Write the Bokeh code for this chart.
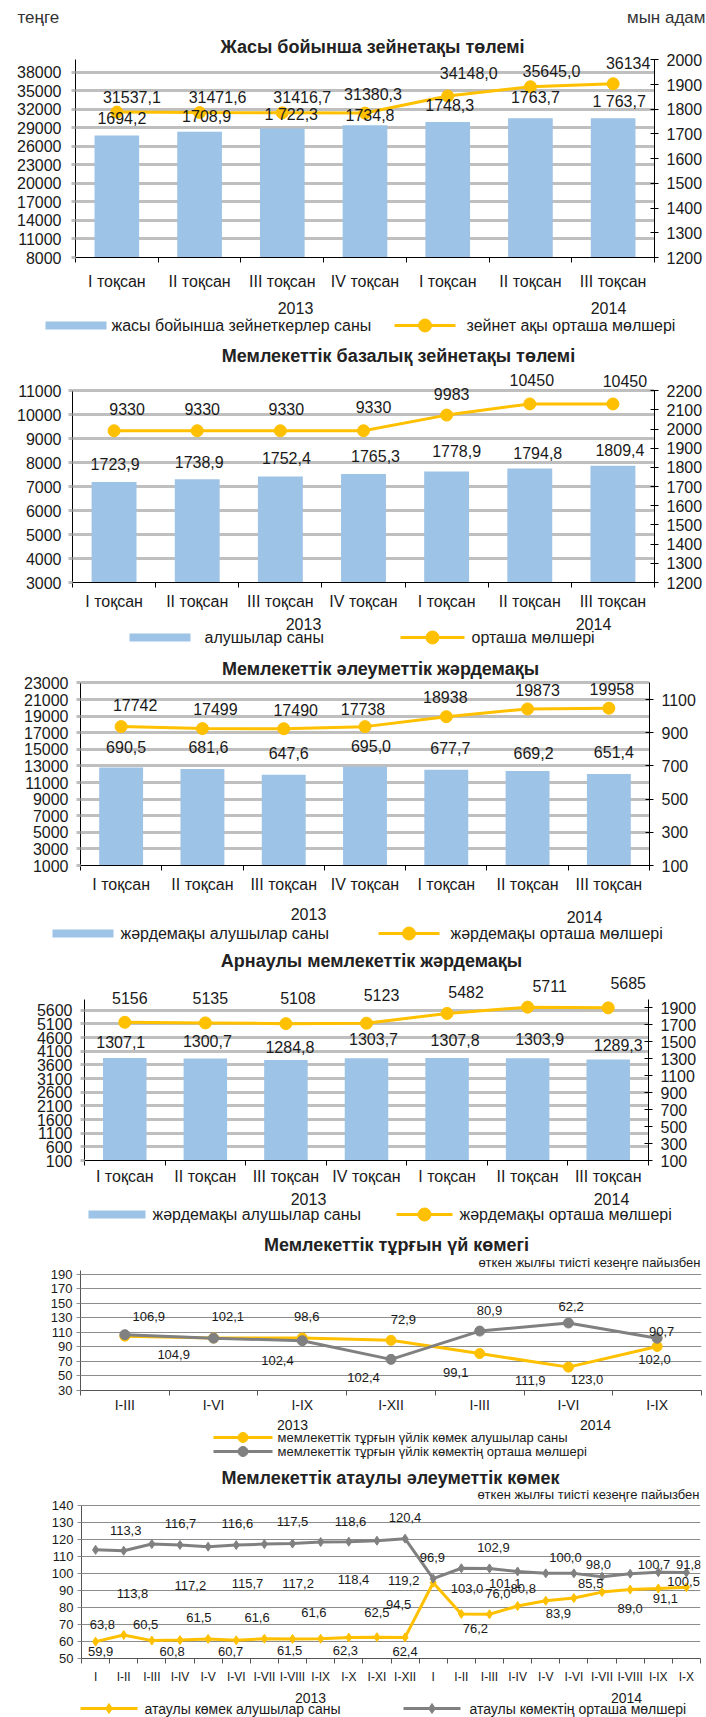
from bokeh.plotting import figure
from bokeh.layouts import column
from bokeh.models import Range1d, LinearAxis, FixedTicker, ColumnDataSource, LabelSet, Grid
from bokeh.core.properties import value
from bokeh.embed import file_html
from bokeh.resources import INLINE

# ------------------------------------------------------------------ data
quarters = ["I тоқсан", "II тоқсан", "III тоқсан", "IV тоқсан", "I тоқсан", "II тоқсан", "III тоқсан"]
years = ["2013", "2014"]

# 1. Жасы бойынша зейнетақы
age_count = [1694.2, 1708.9, 1722.3, 1734.8, 1748.3, 1763.7, 1763.7]
age_count_lbl = ["1694,2", "1708,9", "1 722,3", "1734,8", "1748,3", "1763,7", "1 763,7"]
age_avg = [31537.1, 31471.6, 31416.7, 31380.3, 34148.0, 35645.0, 36134]
age_avg_lbl = ["31537,1", "31471,6", "31416,7", "31380,3", "34148,0", "35645,0", "36134"]

# 2. Базалық зейнетақы
base_count = [1723.9, 1738.9, 1752.4, 1765.3, 1778.9, 1794.8, 1809.4]
base_avg = [9330, 9330, 9330, 9330, 9983, 10450, 10450]

# 3. Әлеуметтік жәрдемақы
soc_count = [690.5, 681.6, 647.6, 695.0, 677.7, 669.2, 651.4]
soc_avg = [17742, 17499, 17490, 17738, 18938, 19873, 19958]

# 4. Арнаулы жәрдемақы
spec_count = [1307.1, 1300.7, 1284.8, 1303.7, 1307.8, 1303.9, 1289.3]
spec_avg = [5156, 5135, 5108, 5123, 5482, 5711, 5685]

# 5. Тұрғын үй көмегі (%)
house_periods = ["I-III", "I-VI", "I-IX", "I-XII", "I-III", "I-VI", "I-IX"]
house_recip = [104.9, 102.4, 102.4, 99.1, 80.9, 62.2, 90.7]
house_amount = [106.9, 102.1, 98.6, 72.9, 111.9, 123.0, 102.0]

# 6. Атаулы әлеуметтік көмек (%)
target_periods = ["I", "I-II", "I-III", "I-IV", "I-V", "I-VI", "I-VII", "I-VIII", "I-IX", "I-X", "I-XI", "I-XII",
                  "I", "I-II", "I-III", "I-IV", "I-V", "I-VI", "I-VII", "I-VIII", "I-IX", "I-X"]
target_recip = [59.9, 63.8, 60.5, 60.8, 61.5, 60.7, 61.6, 61.5, 61.6, 62.3, 62.5, 62.4,
                94.5, 76.2, 76.0, 80.8, 83.9, 85.5, 89.0, 90.5, 91.1, 91.8]
target_amount = [113.8, 113.3, 117.2, 116.7, 115.7, 116.6, 117.2, 117.5, 118.4, 118.6, 119.2, 120.4,
                 96.9, 103.0, 102.9, 101.1, 100.0, 100.0, 98.0, 99.8, 100.7, 100.5]
target_amount_shown = [True] * 17 + [False, True, False, True, True]
target_recip_shown = [True] * 19 + [False, True, True]

# ------------------------------------------------------------------ label layout (pixel offsets / label anchors)
age_avg_off = [(15, 15), (18, 16), (20, 16), (8, 20), (21, 23), (21, 16), (15, 21)]
age_cnt_off = [(5, 18), (7, 16), (9, 14), (5, 11), (2, 17), (5, 22), (6, 17)]
base_avg_off = [(13, 22), (5, 22), (6, 22), (10, 24), (5, 21), (2, 24), (12, 23)]
base_cnt_off = [(1, 18), (2, 17), (6, 19), (12, 18), (10, 21), (8, 16), (7, 16)]
soc_avg_off = [(14, 22), (13, 20), (12, 19), (-2, 18), (-1, 20), (10, 19), (3, 20)]
soc_cnt_off = [(5, 21), (6, 22), (5, 22), (6, 21), (4, 22), (6, 18), (5, 22)]
spec_avg_off = [(5, 24), (5, 25), (12, 26), (15, 28), (19, 22), (22, 21), (20, 25)]
spec_cnt_off = [(-4, 16), (2, 18), (4, 13), (7, 19), (8, 18), (12, 19), (10, 15)]

house_amount_lx = [0.27, 1.16, 2.05, 3.14, 4.57, 5.21, 5.97]
house_amount_ly = [131.6, 132.6, 132.6, 127.3, 43.6, 45.8, 72.2]
house_recip_lx = [0.55, 1.72, 2.69, 3.73, 4.11, 5.03, 6.05]
house_recip_ly = [80.2, 70.9, 48.1, 54.7, 140.5, 146.2, 111.8]

target_amount_lx = [1.31, 1.07, 3.37, 3.02, 5.4, 5.04, 7.2, 7.0, 9.17, 9.06, 10.95, 11.0,
                    11.97, 13.2, 14.14, 14.56, 16.7, 0, 17.87, 0, 19.85, 20.9]
target_amount_ly = [88.3, 125.2, 92.8, 129.2, 94, 129.2, 94, 130.3, 96.3, 130.3, 95.7, 132.6,
                    109.3, 91.1, 115, 94, 109.3, 0, 105.3, 0, 105.3, 95.1]
target_recip_lx = [0.18, 0.24, 1.78, 2.72, 3.67, 4.8, 5.74, 6.9, 7.76, 8.88, 10.0, 11.0,
                   10.77, 13.5, 14.3, 15.2, 16.45, 17.6, 19.0, 0, 20.25, 21.08]
target_recip_ly = [54.4, 70.1, 70.1, 54.4, 74.1, 54.4, 74.1, 54.6, 76.9, 54.6, 76.9, 54.4,
                   81.5, 67.8, 88.3, 91.1, 76.4, 94, 79.2, 0, 85.0, 105.3]

# ------------------------------------------------------------------ style
FONT = "Liberation Sans"
W = 706
BLUE = "#9DC3E6"
GOLD = "#FFC000"
GREY = "#808080"
GRIDC = "#BFBFBF"
TXT = "#1A1A1A"
TITLE_C = "#222222"


def fmt(v, nd=1):
    return f"{v:.{nd}f}".replace(".", ",")


def no_align(p):
    if "frame_align" in type(p).properties():
        p.frame_align = False


def tfig(h):
    f = figure(width=W, height=h, title=None, x_range=Range1d(0, W), y_range=Range1d(h, 0),
               x_axis_type=None, y_axis_type=None, toolbar_location=None, output_backend="svg",
               min_border_left=0, min_border_right=0, min_border_top=0, min_border_bottom=0)
    f.outline_line_color = None
    no_align(f)
    return f


def put(f, top, px, py, s, size=16, align="left", bold=False, color=TXT, **kw):
    f.text(x=[px], y=[py - top], text=[s], text_font=value(FONT), text_font_size=f"{size}px",
           text_font_style="bold" if bold else "normal", text_align=align, text_baseline="middle",
           text_color=color, **kw)


def put_in_chart(p, px, py, s, size=18, align="center", bold=True, color=TITLE_C):
    # chart figures carry pixel ranges "px"/"py" (page coordinates), so this is a plain text glyph
    put(p, 0, px, py, s, size, align, bold, color, x_range_name="px", y_range_name="py")


def leg_bar(f, top, x0, x1, y):
    f.quad(left=[x0], right=[x1], top=[y - top - 4], bottom=[y - top + 4],
           fill_color=BLUE, line_color=None)


def leg_line(f, top, x0, x1, y, color, marker="circle", size=13):
    f.line([x0, x1], [y - top, y - top], line_color=color, line_width=3)
    f.scatter([(x0 + x1) / 2], [y - top], marker=marker, size=size, fill_color=color, line_color=color)


def style_axis(ax, size, color="black"):
    ax.major_label_text_font = FONT
    ax.major_label_text_font_size = f"{size}px"
    ax.major_label_text_color = TXT
    ax.axis_line_color = color
    ax.axis_line_width = 1


def base_fig(top, h, fl, fr, fb, xr, yr):
    # frame runs from the figure top down to fb; the y axes are bounded to the chart part
    p = figure(width=W, height=h, title=None, x_range=Range1d(*xr), y_range=Range1d(*yr),
               x_axis_type=None, y_axis_type=None, toolbar_location=None, output_backend="svg",
               min_border_left=fl, min_border_right=W - fr,
               min_border_top=0, min_border_bottom=top + h - fb)
    p.outline_line_color = None
    p.extra_x_ranges = {"px": Range1d(fl, fr)}
    p.extra_y_ranges = {"py": Range1d(fb, top)}
    no_align(p)
    return p


def xaxis(p, cats, size, standoff, color="black"):
    n = len(cats)
    xa = LinearAxis(ticker=FixedTicker(ticks=list(range(n)), minor_ticks=[i - 0.5 for i in range(n + 1)]),
                    major_label_overrides={i: c for i, c in enumerate(cats)})
    style_axis(xa, size, color)
    xa.major_tick_line_color = None
    xa.major_tick_out = 0
    xa.major_tick_in = 0
    xa.minor_tick_out = 5
    xa.minor_tick_in = 0
    xa.minor_tick_line_color = color
    xa.major_label_standoff = standoff
    p.add_layout(xa, "below")


def combo(top, h, fl, fr, ft, fb, lrange, lticks, rrange, rticks,
          cnt, cnt_lbl, cnt_off, avg, avg_lbl, avg_off, xstand, lstand, title, tpos):
    fw, fh = fr - fl, fb - ft
    catw = fw / 7.0
    ppl = fh / (lrange[1] - lrange[0])
    ppr = fh / (rrange[1] - rrange[0])
    extra = ft - top
    p = base_fig(top, h, fl, fr, fb, (-0.5, 6.5), (lrange[0], lrange[1] + extra / ppl))
    p.extra_y_ranges["r"] = Range1d(rrange[0], rrange[1] + extra / ppr)

    p.add_layout(Grid(dimension=1, ticker=FixedTicker(ticks=lticks),
                      grid_line_color=GRIDC, grid_line_width=3))
    la = LinearAxis(ticker=FixedTicker(ticks=lticks), bounds=tuple(lrange))
    style_axis(la, 16)
    la.major_tick_out = 4
    la.major_tick_in = 0
    la.major_tick_line_color = GRIDC
    la.major_tick_line_width = 3
    la.major_label_standoff = lstand
    p.add_layout(la, "left")
    ra = LinearAxis(y_range_name="r", ticker=FixedTicker(ticks=rticks), bounds=tuple(rrange))
    style_axis(ra, 16)
    ra.major_tick_out = 4
    ra.major_tick_in = 4
    ra.major_tick_line_color = "black"
    ra.major_label_standoff = 8
    p.add_layout(ra, "right")
    xaxis(p, quarters, 16, xstand)

    idx = list(range(7))
    p.vbar(x=idx, top=cnt, bottom=rrange[0], width=0.54, fill_color=BLUE, line_color=None, y_range_name="r")
    p.line(x=idx, y=avg, line_color=GOLD, line_width=3)
    p.scatter(x=idx, y=avg, size=12, fill_color=GOLD, line_color=GOLD)

    src_c = ColumnDataSource(dict(x=[i + o[0] / catw for i, o in zip(idx, cnt_off)],
                                  y=[v + o[1] / ppr for v, o in zip(cnt, cnt_off)], t=cnt_lbl))
    src_a = ColumnDataSource(dict(x=[i + o[0] / catw for i, o in zip(idx, avg_off)],
                                  y=[v + o[1] / ppl for v, o in zip(avg, avg_off)], t=avg_lbl))
    for src, rn in ((src_c, "r"), (src_a, "default")):
        p.add_layout(LabelSet(x="x", y="y", text="t", source=src, y_range_name=rn,
                              text_align="center", text_baseline="middle", text_font=value(FONT),
                              text_font_size="16px", text_color=TXT))
    put_in_chart(p, tpos[0], tpos[1], title)
    return p


def linechart(top, h, fl, fr, ft, fb, yrange, yticks, cats, cat_size, xstand,
              s1, s1_lx, s1_ly, s1_show, s2, s2_lx, s2_ly, s2_show, marker, msize, lbl_size,
              title, tpos, subtitle, spos):
    n = len(cats)
    ppu = (fb - ft) / (yrange[1] - yrange[0])
    p = base_fig(top, h, fl, fr, fb, (-0.5, n - 0.5), (yrange[0], yrange[1] + (ft - top) / ppu))
    p.add_layout(Grid(dimension=1, ticker=FixedTicker(ticks=yticks),
                      grid_line_color="#8C8C8C", grid_line_width=1))
    la = LinearAxis(ticker=FixedTicker(ticks=yticks), bounds=tuple(yrange))
    style_axis(la, 13, "#555555")
    la.major_tick_out = 4
    la.major_tick_in = 0
    la.major_tick_line_color = "#8C8C8C"
    la.major_label_standoff = 4
    p.add_layout(la, "left")
    xaxis(p, cats, cat_size, xstand, "#555555")
    idx = list(range(n))
    for s, c in ((s1, GOLD), (s2, GREY)):
        p.line(x=idx, y=s, line_color=c, line_width=3)
        p.scatter(x=idx, y=s, marker=marker, size=msize, fill_color=c, line_color=c)
    for s, lx, ly, show in ((s1, s1_lx, s1_ly, s1_show), (s2, s2_lx, s2_ly, s2_show)):
        keep = [i for i in idx if show[i]]
        src = ColumnDataSource(dict(x=[lx[i] for i in keep], y=[ly[i] for i in keep],
                                    t=[fmt(s[i]) for i in keep]))
        p.add_layout(LabelSet(x="x", y="y", text="t", source=src, text_align="center",
                              text_baseline="middle", text_font=value(FONT),
                              text_font_size=f"{lbl_size}px", text_color=TXT))
    put_in_chart(p, tpos[0], tpos[1], title)
    put_in_chart(p, spos[0], spos[1], subtitle, size=13, align="right", bold=False, color=TXT)
    return p


# ------------------------------------------------------------------ build (page coordinates)
parts = []
SUB = "өткен жылғы тиісті кезеңге пайызбен"

T = 0
f0 = tfig(30)
put(f0, T, 17, 17, "теңге", 17, color="#333333")
put(f0, T, 705, 17, "мын адам", 17, align="right", color="#333333")
parts.append(f0)

parts.append(combo(30, 262, 75, 654, 60, 262, (8000, 40000), list(range(8000, 38001, 3000)),
                   (1200, 2000), list(range(1200, 2001, 100)),
                   age_count, age_count_lbl, age_cnt_off,
                   age_avg, age_avg_lbl, age_avg_off, 10, 10,
                   "Жасы бойынша зейнетақы төлемі", (372, 47)))

T = 292
f1 = tfig(52)
put(f1, T, 295, 307, years[0], 16, align="center")
put(f1, T, 608, 307, years[1], 16, align="center")
leg_bar(f1, T, 45, 106, 325)
put(f1, T, 111, 325, "жасы бойынша зейнеткерлер саны", 16)
leg_line(f1, T, 394, 455, 325, GOLD)
put(f1, T, 466, 325, "зейнет ақы орташа мөлшері", 16)
parts.append(f1)

parts.append(combo(344, 268, 72, 654, 391, 586, (3000, 11000), list(range(3000, 11001, 1000)),
                   (1200, 2200), list(range(1200, 2201, 100)),
                   base_count, [fmt(v) for v in base_count], base_cnt_off,
                   base_avg, [str(v) for v in base_avg], base_avg_off, 5, 7,
                   "Мемлекеттік базалық зейнетақы төлемі", (398, 356)))

T = 612
f2 = tfig(43)
put(f2, T, 303, 623, years[0], 16, align="center")
put(f2, T, 593, 623, years[1], 16, align="center")
leg_bar(f2, T, 129, 190, 637)
put(f2, T, 204, 637, "алушылар саны", 16)
leg_line(f2, T, 400, 464, 637, GOLD)
put(f2, T, 471, 637, "орташа мөлшері", 16)
parts.append(f2)

parts.append(combo(655, 240, 80, 649, 683, 869, (1000, 23000), list(range(1000, 23001, 2000)),
                   (100, 1200), list(range(100, 1101, 200)),
                   soc_count, [fmt(v) for v in soc_count], soc_cnt_off,
                   soc_avg, [str(v) for v in soc_avg], soc_avg_off, 5, 8,
                   "Мемлекеттік әлеуметтік жәрдемақы", (380, 669)))

T = 895
f3 = tfig(50)
put(f3, T, 308, 913, years[0], 16, align="center")
put(f3, T, 584, 916, years[1], 16, align="center")
leg_bar(f3, T, 52, 113, 933)
put(f3, T, 120, 933, "жәрдемақы алушылар саны", 16)
leg_line(f3, T, 378, 439, 933, GOLD)
put(f3, T, 450, 933, "жәрдемақы орташа мөлшері", 16)
parts.append(f3)

parts.append(combo(945, 242, 84, 648, 999, 1161, (100, 6000), list(range(100, 5601, 500)),
                   (100, 2000), list(range(100, 1901, 200)),
                   spec_count, [fmt(v) for v in spec_count], spec_cnt_off,
                   spec_avg, [str(v) for v in spec_avg], spec_avg_off, 2, 8,
                   "Арнаулы мемлекеттік жәрдемақы", (371, 961)))

T = 1187
f4 = tfig(43)
put(f4, T, 308, 1198, years[0], 16, align="center")
put(f4, T, 611, 1198, years[1], 16, align="center")
leg_bar(f4, T, 88, 145, 1214)
put(f4, T, 152, 1214, "жәрдемақы алушылар саны", 16)
leg_line(f4, T, 396, 452, 1214, GOLD)
put(f4, T, 459, 1214, "жәрдемақы орташа мөлшері", 16)
parts.append(f4)

parts.append(linechart(1230, 185, 80, 701, 1272, 1397, (30, 195), list(range(30, 191, 20)),
                       house_periods, 14, 1,
                       house_recip, house_recip_lx, house_recip_ly, [True] * 7,
                       house_amount, house_amount_lx, house_amount_ly, [True] * 7,
                       "circle", 10, 13,
                       "Мемлекеттік тұрғын үй көмегі", (396, 1245), SUB, (700, 1263)))

T = 1415
f5 = tfig(50)
put(f5, T, 292, 1424, years[0], 14, align="center")
put(f5, T, 595, 1424, years[1], 14, align="center")
leg_line(f5, T, 213, 272, 1437, GOLD, size=10)
put(f5, T, 277, 1437, "мемлекеттік тұрғын үйлік көмек алушылар саны", 13)
leg_line(f5, T, 213, 272, 1451, GREY, size=10)
put(f5, T, 277, 1451, "мемлекеттік тұрғын үйлік көмектің орташа мөлшері", 13)
parts.append(f5)

parts.append(linechart(1465, 221, 81, 700, 1506, 1664, (50, 140), list(range(50, 141, 10)),
                       target_periods, 12, 6,
                       target_recip, target_recip_lx, target_recip_ly, target_recip_shown,
                       target_amount, target_amount_lx, target_amount_ly, target_amount_shown,
                       "diamond", 9, 13,
                       "Мемлекеттік атаулы әлеуметтік көмек", (390, 1478), SUB, (699, 1495)))

T = 1686
f6 = tfig(31)
put(f6, T, 310, 1697, years[0], 14, align="center")
put(f6, T, 626, 1697, years[1], 14, align="center")
leg_line(f6, T, 80, 137, 1708, GOLD, marker="diamond", size=10)
put(f6, T, 144, 1708, "атаулы көмек алушылар саны", 14)
leg_line(f6, T, 403, 460, 1708, GREY, marker="diamond", size=10)
put(f6, T, 469, 1708, "атаулы көмектің орташа мөлшері", 14)
parts.append(f6)

layout = column(*parts, spacing=0)
open("out.html", "w").write(file_html(layout, INLINE))
